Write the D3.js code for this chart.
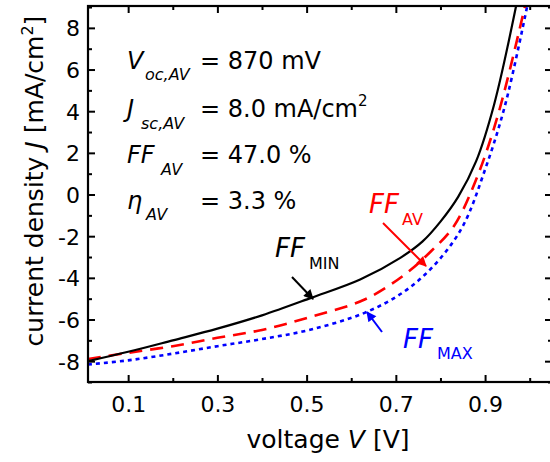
<!DOCTYPE html>
<html>
<head>
<meta charset="utf-8">
<script src="https://cdn.jsdelivr.net/npm/d3@7"></script>
<style>
  body { margin: 0; background: #fff; }
  svg { display: block; font-family: "DejaVu Sans", sans-serif; }
</style>
</head>
<body>
<svg id="chart" width="550" height="462"></svg>
<script>
// data: voltage [V] and current density [mA/cm2]
var vMin = [0.01, 0.10, 0.20, 0.30, 0.40, 0.51, 0.62, 0.71, 0.76, 0.80, 0.84, 0.88, 0.92, 0.97];
var jMin = [-8.0, -7.55, -7.0, -6.44, -5.8, -4.96, -4.08, -3.04, -2.25, -1.3, -0.1, 1.6, 4.3, 9.1];
var vAv  = [0.01, 0.10, 0.20, 0.30, 0.40, 0.51, 0.63, 0.72, 0.78, 0.83, 0.88, 0.93, 0.99];
var jAv  = [-7.9, -7.6, -7.28, -6.88, -6.5, -5.87, -5.04, -3.84, -2.7, -1.52, 0.72, 3.9, 9.1];
var vMax = [0.01, 0.10, 0.20, 0.30, 0.40, 0.51, 0.63, 0.72, 0.79, 0.85, 0.90, 0.945, 0.995];
var jMax = [-8.16, -7.96, -7.64, -7.28, -6.94, -6.48, -5.68, -4.64, -3.3, -1.52, 1.2, 4.3, 9.1];
var xMajor = [0.1, 0.3, 0.5, 0.7, 0.9];
var xMinor = [0.2, 0.4, 0.6, 0.8, 1.0];
var yMajor = [-8, -6, -4, -2, 0, 2, 4, 6, 8];
var yMinor = [-9, -7, -5, -3, -1, 1, 3, 5, 7, 9];

var svg = d3.select("#chart");
var L = 88, R = 552, T = 6, B = 382;

var x = d3.scaleLinear().domain([0.01, 1.05]).range([L, R]);
var y = d3.scaleLinear().domain([-9, 9.05]).range([B, T]);

svg.append("clipPath").attr("id", "clip")
  .append("rect").attr("x", L).attr("y", T).attr("width", R - L).attr("height", B - T);

// curves
var line = d3.line().x(d => x(d[0])).y(d => y(d[1])).curve(d3.curveCatmullRom.alpha(0.5));
function curve(vs, js, color, dash, w) {
  svg.append("path")
    .datum(vs.map((v, i) => [v, js[i]]))
    .attr("clip-path", "url(#clip)")
    .attr("d", line)
    .attr("fill", "none")
    .attr("stroke", color)
    .attr("stroke-width", w)
    .attr("stroke-dasharray", dash);
}
curve(vMax, jMax, "#0000ff", "4,4", 2.6);
curve(vAv, jAv, "#ff0000", "13,8", 2.6);
curve(vMin, jMin, "#000", null, 2.2);

// axes (ticks pointing inward)
var fmtX = d3.format(".1f");
var fmtY = d => String(d);  // plain hyphen for negatives
function ax(g, gen, major, minor, isX, labels) {
  var a = svg.append("g").attr("transform", g);
  a.call(gen(isX ? x : y).tickValues(major).tickSizeInner(-7).tickSizeOuter(0)
    .tickFormat(labels ? (isX ? fmtX : fmtY) : ""));
  a.append("g").call(gen(isX ? x : y).tickValues(minor).tickSizeInner(-4).tickSizeOuter(0).tickFormat(""));
  a.selectAll(".domain").remove();
  a.selectAll("line").attr("stroke", "#000").attr("stroke-width", 2);
  a.selectAll("text").attr("font-size", 22).attr("fill", "#000")
    .attr("font-family", "DejaVu Sans, sans-serif");
  return a;
}
var xb = ax("translate(0," + B + ")", d3.axisBottom, xMajor, xMinor, true, true);
xb.selectAll("text").attr("y", 0).attr("dy", 30);
ax("translate(0," + T + ")", d3.axisTop, xMajor, xMinor, true, false);
var yl = ax("translate(" + L + ",0)", d3.axisLeft, yMajor, yMinor, false, true);
yl.selectAll("text").attr("x", -8).attr("dy", "0.36em");
ax("translate(" + R + ",0)", d3.axisRight, yMajor, yMinor, false, false);

svg.append("rect").attr("x", L).attr("y", T).attr("width", R - L).attr("height", B - T)
  .attr("fill", "none").attr("stroke", "#000").attr("stroke-width", 2.2);

// axis titles
var xt = svg.append("text").attr("x", 328).attr("y", 448).attr("text-anchor", "middle")
  .attr("font-size", 25);
xt.append("tspan").text("voltage ");
xt.append("tspan").attr("font-style", "italic").text("V");
xt.append("tspan").text(" [V]");

var yt = svg.append("text").attr("transform", "translate(43,181) rotate(-90)")
  .attr("text-anchor", "middle").attr("font-size", 25);
yt.append("tspan").text("current density ");
yt.append("tspan").attr("font-style", "italic").text("J");
yt.append("tspan").text(" [mA/cm");
yt.append("tspan").attr("font-size", 16).attr("dy", -10).text("2");
yt.append("tspan").attr("dy", 10).text("]");

// parameter block
function put(px, py, str, size, italic, color) {
  return svg.append("text").attr("x", px).attr("y", py).attr("font-size", size)
    .attr("font-style", italic ? "italic" : "normal").attr("fill", color || "#000").text(str);
}
put(127, 69, "V", 24, true);  put(145, 80, "oc,AV", 16, true);  put(200, 69, "= 870 mV", 24);
put(127, 117, "J", 24, true); put(141, 129, "sc,AV", 16, true);
put(200, 117, "= 8.0 mA/cm", 24).append("tspan").attr("font-size", 15).attr("dy", -11).text("2");
put(127, 163, "FF", 24, true); put(161, 175, "AV", 16, true); put(200, 163, "= 47.0 %", 24);
put(127, 209, "\u03b7", 24, true); put(146, 220, "AV", 16, true); put(200, 209, "= 3.3 %", 24);

// curve labels
put(275, 257, "FF", 26, true);   put(309, 269, "MIN", 16, false);
put(369, 213, "FF", 26, true, "#ff0000"); put(402, 225, "AV", 16, false, "#ff0000");
put(403, 348, "FF", 26, true, "#0000ff"); put(437, 359, "MAX", 16, false, "#0000ff");

// arrows
var defs = svg.append("defs");
function arrow(x1, y1, x2, y2, color, id) {
  defs.append("marker").attr("id", id).attr("viewBox", "0 0 10 10").attr("refX", 9).attr("refY", 5)
    .attr("markerWidth", 5.5).attr("markerHeight", 5).attr("orient", "auto")
    .append("path").attr("d", "M0,0L10,5L0,10z").attr("fill", color);
  svg.append("line").attr("x1", x1).attr("y1", y1).attr("x2", x2).attr("y2", y2)
    .attr("stroke", color).attr("stroke-width", 2).attr("marker-end", "url(#" + id + ")");
}
arrow(292, 277, 313, 299, "#000", "aMin");
arrow(383, 223, 426, 266, "#ff0000", "aAv");
arrow(382, 332, 367, 312, "#0000ff", "aMax");
</script>
</body>
</html>
